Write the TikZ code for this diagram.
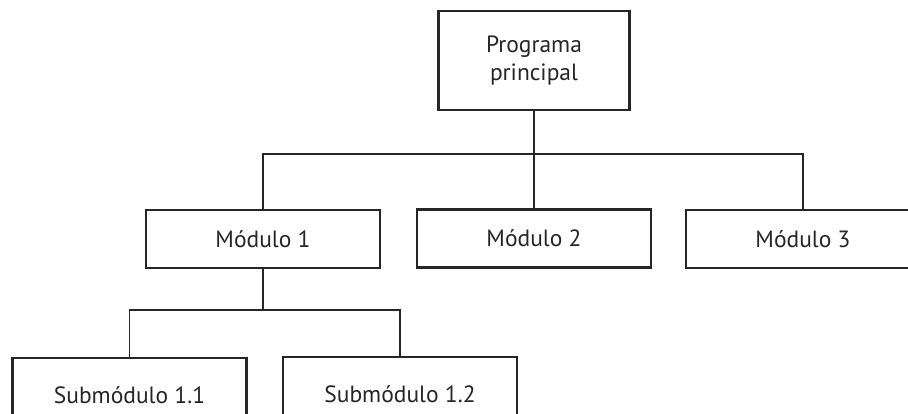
\documentclass[tikz,border=0pt]{standalone}
\usepackage{fontspec}
\setmainfont{PT Sans}
\begin{document}
\begin{tikzpicture}[x=1pt,y=-1pt,
  box/.style={draw=black!85,line width=2.8pt,fill=white,minimum width=234pt,minimum height=58pt,inner sep=0pt,font=\fontsize{23.5}{28}\selectfont,text=black!85,align=center},
  link/.style={draw=black!85,line width=1.1pt}]
\useasboundingbox (0,0) rectangle (908,414);
\clip (0,0) rectangle (908,414);
\fill[white] (0,0) rectangle (908,414);
\node[box,minimum width=191pt,minimum height=99pt] (top) at (534,60.5) {Programa\\principal};
\node[box] (m1) at (263,239) {Módulo 1};
\node[box] (m2) at (534,238.5) {Módulo 2};
\node[box] (m3) at (803,239) {Módulo 3};
\node[box,minimum height=74pt] (s1) at (129.5,395) {Submódulo 1.1};
\node[box,minimum height=74pt] (s2) at (400,394) {Submódulo 1.2};
\coordinate (j1) at (534,154);
\coordinate (j2) at (263,310);
\draw[link] (top.south) -- (m2.north);
\draw[link] (m1.north) |- (j1) -| (m3.north);
\draw[link] (m1.south) -- (j2);
\draw[link] (s1.north) |- (j2) -| (s2.north);
\end{tikzpicture}
\end{document}
